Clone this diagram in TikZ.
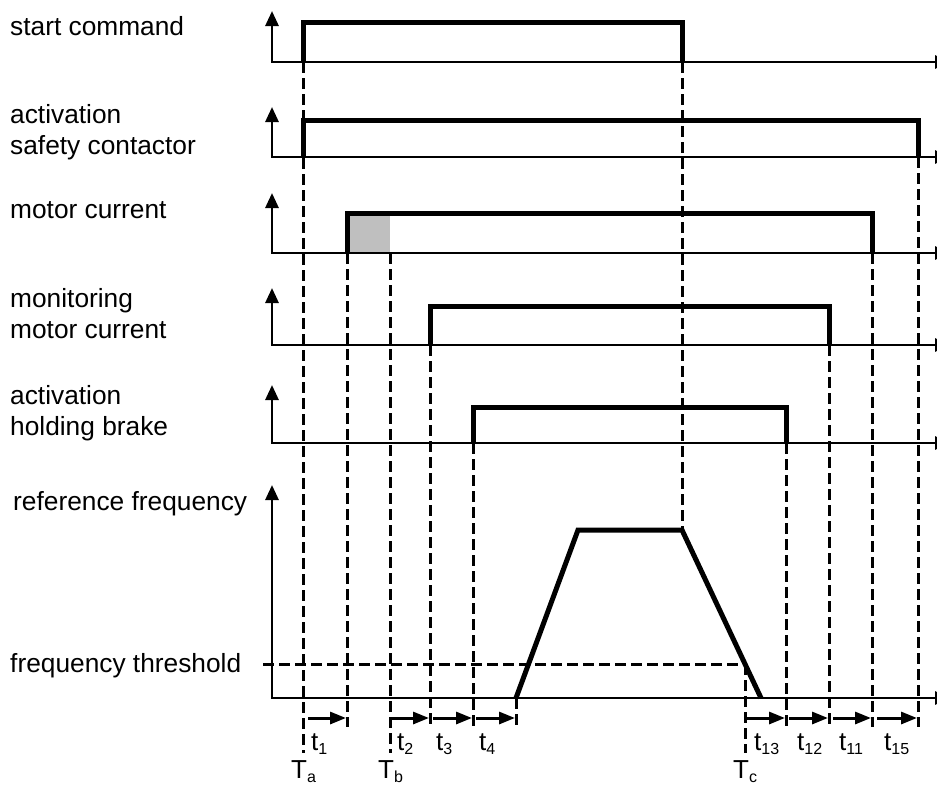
\documentclass[tikz,border=0pt]{standalone}
\usepackage{fontspec}
\setmainfont{Liberation Sans}
\usetikzlibrary{arrows.meta}
\newcommand\tsubx[1]{t\raisebox{-4pt}{\fontsize{16}{17}\selectfont #1}}
\newcommand\Tsubx[1]{T\raisebox{-4pt}{\fontsize{16}{17}\selectfont #1}}
\begin{document}
\begin{tikzpicture}[x=1pt,y=-1pt,
  axis/.style={line width=2.8pt,{Triangle[length=15pt,width=13pt]}-{Triangle[length=15pt,width=13pt]}},
  sig/.style={line width=5pt,line join=miter},
  guide/.style={line width=3pt,dash pattern=on 11pt off 5pt},
  dur/.style={line width=3pt,-{Triangle[length=16pt,width=12pt]}},
  lbl/.style={anchor=base west,inner sep=0pt,font=\fontsize{26.3}{31}\selectfont},
  tlbl/.style={anchor=base west,inner sep=0pt,font=\fontsize{26}{28}\selectfont},
]
\useasboundingbox (0,0) rectangle (937,785);

% labels
\node[lbl] (l1) at (10,35) {start command};
\node[lbl] (l2a) at (10,123) {activation};
\node[lbl] (l2b) at (10,154) {safety contactor};
\node[lbl] (l3) at (10,218) {motor current};
\node[lbl] (l4a) at (10,307) {monitoring};
\node[lbl] (l4b) at (10,338) {motor current};
\node[lbl] (l5a) at (10,404) {activation};
\node[lbl] (l5b) at (10,435) {holding brake};
\node[lbl] (l6) at (13,510) {reference frequency};
\node[lbl] (l7) at (10,672) {frequency threshold};

% gray region
\fill[black!25] (347,213) rectangle (390,253);

% guides
\draw[guide] (303,62) -- (303,753);
\draw[guide] (347,253) -- (347,727);
\draw[guide] (390,253) -- (390,753);
\draw[guide] (430,345) -- (430,727);
\draw[guide] (473,443) -- (473,727);
\draw[guide] (516,698) -- (516,727);
\draw[guide] (682,62) -- (682,530);
\draw[guide] (745,664) -- (745,753);
\draw[guide] (786,443) -- (786,727);
\draw[guide] (829,345) -- (829,727);
\draw[guide] (872,253) -- (872,727);
\draw[guide] (918,157) -- (918,727);
\draw[guide] (263,664) -- (745,664);

% axes
\draw[axis] (272,11) -- (272,62) -- (950,62);
\draw[axis] (272,107) -- (272,157) -- (950,157);
\draw[axis] (272,193) -- (272,253) -- (950,253);
\draw[axis] (272,288) -- (272,345) -- (950,345);
\draw[axis] (272,385) -- (272,443) -- (950,443);
\draw[axis] (272,485) -- (272,698) -- (950,698);

% signals
\draw[sig] (303,62) -- (303,22) -- (682,22) -- (682,62);
\draw[sig] (303,157) -- (303,120) -- (918,120) -- (918,157);
\draw[sig] (347,253) -- (347,213) -- (872,213) -- (872,253);
\draw[sig] (430,345) -- (430,306) -- (829,306) -- (829,345);
\draw[sig] (473,443) -- (473,407) -- (786,407) -- (786,443);
\draw[sig] (516,698) -- (578,530) -- (682,530) -- (761,698);

% durations
\draw[dur] (308,718) -- (346,718);
\draw[dur] (390,718) -- (429,718);
\draw[dur] (433,718) -- (472,718);
\draw[dur] (476,718) -- (515,718);
\draw[dur] (745,718) -- (785,718);
\draw[dur] (789,718) -- (828,718);
\draw[dur] (833,718) -- (871,718);
\draw[dur] (877,718) -- (917,718);

\node[tlbl] (t1) at (311,750) {\tsubx{1}};
\node[tlbl] (t2) at (397,750) {\tsubx{2}};
\node[tlbl] (t3) at (436,750) {\tsubx{3}};
\node[tlbl] (t4) at (479,750) {\tsubx{4}};
\node[tlbl] (t13) at (754,750) {\tsubx{13}};
\node[tlbl] (t12) at (797,750) {\tsubx{12}};
\node[tlbl] (t11) at (839,750) {\tsubx{11}};
\node[tlbl] (t15) at (884,750) {\tsubx{15}};
\node[tlbl] (Ta) at (291,778) {\Tsubx{a}};
\node[tlbl] (Tb) at (378,778) {\Tsubx{b}};
\node[tlbl] (Tc) at (733,778) {\Tsubx{c}};
\end{tikzpicture}
\end{document}
